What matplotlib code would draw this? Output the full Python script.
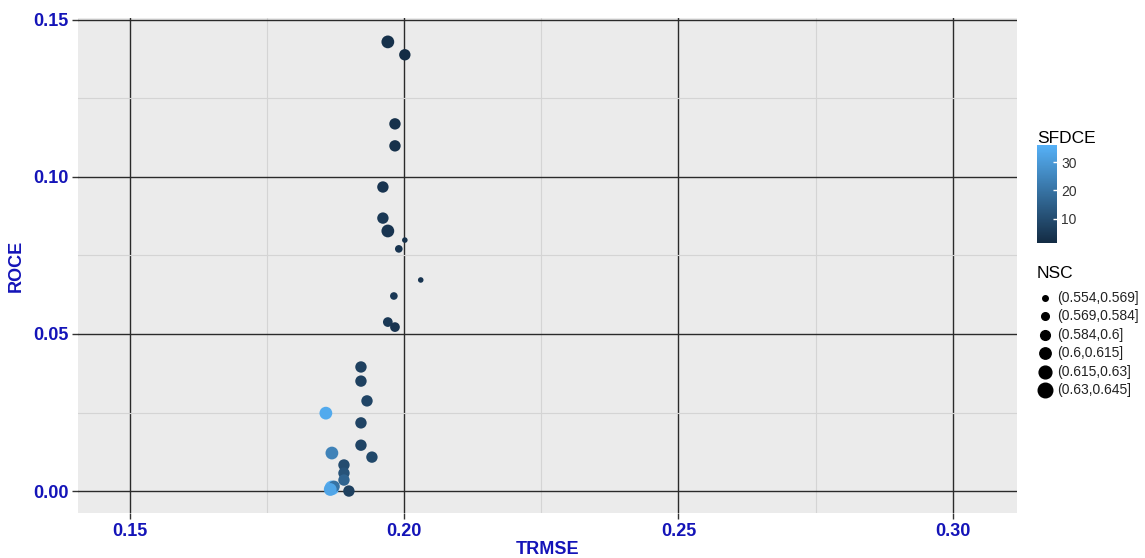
import numpy as np
import matplotlib
matplotlib.use('Agg')
import matplotlib.pyplot as plt
from matplotlib.colors import LinearSegmentedColormap, Normalize
from matplotlib.lines import Line2D

plt.rcParams['font.family'] = ['Liberation Sans', 'DejaVu Sans']

# data
trmse = [0.1970, 0.2001, 0.1983, 0.1983, 0.1961, 0.1961, 0.1970, 0.2001, 0.1990, 0.2030,
         0.1981, 0.1970, 0.1983, 0.1921, 0.1921, 0.1932, 0.1857, 0.1921, 0.1921, 0.1868,
         0.1941, 0.1890, 0.1890, 0.1890, 0.1868, 0.1872, 0.1899, 0.1865]
roce = [0.1430, 0.1389, 0.1169, 0.1099, 0.0968, 0.0869, 0.0828, 0.0799, 0.0771, 0.0672,
        0.0621, 0.0538, 0.0522, 0.0395, 0.0350, 0.0287, 0.0248, 0.0217, 0.0146, 0.0121,
        0.0108, 0.0083, 0.0057, 0.0035, 0.0010, 0.0015, 0.0000, 0.0005]
sfdce = [3, 2, 3, 3, 4, 5, 4, 3, 4, 4,
         5, 5, 4, 7, 7, 8, 34, 8, 8, 24,
         9, 10, 12, 16, 35, 20, 7, 33]
nsc_bin = [5, 4, 4, 4, 4, 4, 5, 1, 2, 1,
           2, 3, 3, 4, 4, 4, 5, 4, 4, 5,
           4, 4, 4, 4, 6, 4, 4, 5]
nsc_labels = ['(0.554,0.569]', '(0.569,0.584]', '(0.584,0.6]',
              '(0.6,0.615]', '(0.615,0.63]', '(0.63,0.645]']

# marker diameters (pt) per NSC bin
diam = [4.0, 5.5, 7.0, 8.2, 9.2, 10.5]

blue = '#1414B8'
cmap = LinearSegmentedColormap.from_list('gg', ['#132B43', '#56B1F7'])
norm = Normalize(vmin=1.5, vmax=36)

W, H = 1145, 558
fig = plt.figure(figsize=(W / 100, H / 100), dpi=100)
ax = fig.add_axes([0.0681, 0.0806, 0.8200, 0.8871])
ax.set_facecolor('#EBEBEB')

sizes = [diam[b - 1] ** 2 for b in nsc_bin]
ax.scatter(trmse, roce, s=sizes, c=sfdce, cmap=cmap, norm=norm, linewidths=0, zorder=3)

ax.set_xlim(0.1405, 0.3117)
ax.set_ylim(-0.007, 0.1506)
ax.set_xticks([0.15, 0.20, 0.25, 0.30])
ax.set_xticks([0.175, 0.225, 0.275], minor=True)
ax.set_yticks([0.00, 0.05, 0.10, 0.15])
ax.set_yticks([0.025, 0.075, 0.125], minor=True)
ax.set_xticklabels(['0.15', '0.20', '0.25', '0.30'])
ax.set_yticklabels(['0.00', '0.05', '0.10', '0.15'])
ax.grid(which='major', color='#2A2A2A', linewidth=1.0, zorder=1)
ax.grid(which='minor', color='#D4D4D4', linewidth=0.8, zorder=1)
ax.set_axisbelow(True)
for s in ax.spines.values():
    s.set_visible(False)
ax.tick_params(which='major', length=4, color='#333333', width=1,
               labelsize=13, labelcolor=blue, pad=3)
ax.tick_params(which='minor', length=0)
for lab in ax.get_xticklabels() + ax.get_yticklabels():
    lab.set_fontweight('bold')
ax.set_xlabel('TRMSE', fontsize=13, fontweight='bold', color=blue, labelpad=1)
ax.set_ylabel('ROCE', fontsize=13, fontweight='bold', color=blue, labelpad=6)

# colour bar legend
cax = fig.add_axes([0.9057, 0.5645, 0.0175, 0.1756])
sm = plt.cm.ScalarMappable(norm=norm, cmap=cmap)
cb = fig.colorbar(sm, cax=cax, ticks=[10, 20, 30])
cb.outline.set_visible(False)
cax.tick_params(length=3, color='white', width=1, direction='in', labelsize=10,
                labelcolor='#333333', pad=3)
fig.text(1037 / W, 1 - 143 / H, 'SFDCE', fontsize=12.5, ha='left', va='baseline')

# size legend, drawn by hand
fig.text(1037 / W, 1 - 278 / H, 'NSC', fontsize=12.5, ha='left', va='baseline')
for i, (d, lab) in enumerate(zip(diam, nsc_labels)):
    yy = 1 - (298 + i * 18.4) / H
    fig.add_artist(Line2D([1045 / W], [yy], marker='o', linestyle='', color='black',
                          markersize=d, transform=fig.transFigure))
    fig.text(1057 / W, yy, lab, fontsize=10, ha='left', va='center', color='#222222')

fig.savefig('out.png', dpi=100)
